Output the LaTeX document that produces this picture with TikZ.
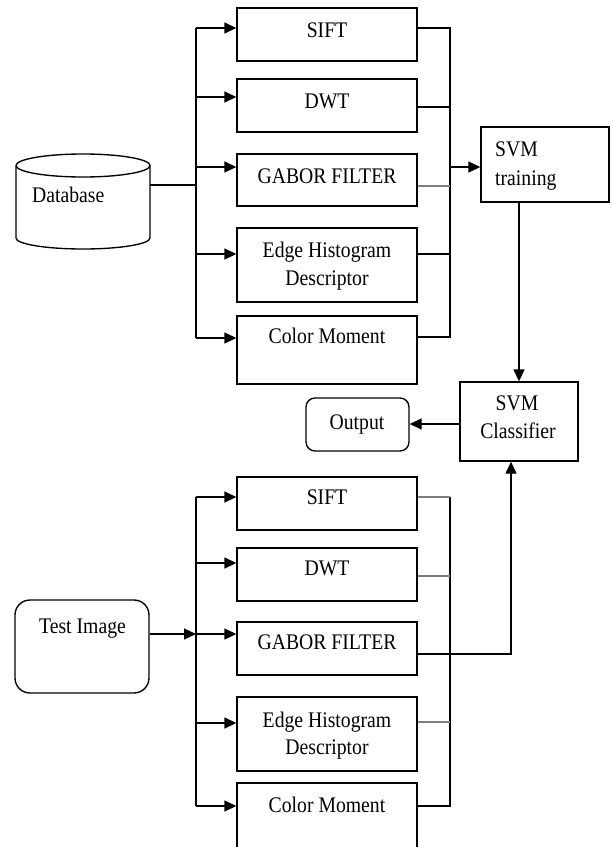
\documentclass[tikz,border=0pt]{standalone}
\usepackage{fontspec}
\setmainfont{Liberation Serif}
\usetikzlibrary{arrows.meta,calc}
\definecolor{wiregray}{RGB}{125,125,125}
\newcommand\tallt[1]{\scalebox{1}[1.13]{#1}}

\begin{document}
\begin{tikzpicture}[x=1bp,y=-1bp,
  box/.style={draw,line width=1.35bp,minimum width=180bp,inner sep=0pt},
  rbox/.style={draw,line width=1.35bp,inner sep=0pt},
  lbl/.style={font=\fontsize{19.7bp}{23bp}\selectfont,inner sep=0pt,anchor=base},
  lblw/.style={lbl,anchor=base west},
  wire/.style={line width=1.35bp},
  gwire/.style={line width=2.3bp,draw=wiregray},
  arr/.style={wire,-{Triangle[length=12bp,width=11bp]}}]

\fill[white] (0,0) rectangle (613,847);
\useasboundingbox (0,0) rectangle (613,847);
\clip (0,0) rectangle (613,847);

% ---------- training branch ----------
\node[draw=none,minimum width=134bp,minimum height=95bp,inner sep=0pt] (db) at (83,201.5) {};
\draw[line width=1.35bp] (16,165.5) arc[start angle=180,end angle=-180,x radius=67,y radius=11.5];
\draw[line width=1.35bp] (16,165.5) -- (16,238) arc[start angle=180,end angle=360,x radius=67,y radius=-11] -- (150,165.5);
\node[lblw] (tDb) at (32,202) {\tallt{Database}};

\node[box,minimum height=53bp] (s1) at (327,34.5) {};
\node[box,minimum height=53bp] (d1) at (327,105.5) {};
\node[box,minimum height=52bp] (g1) at (327,180) {};
\node[box,minimum height=74bp] (e1) at (327,265) {};
\node[box,minimum height=68bp] (c1) at (327,350) {};

\node[lbl] (tS1) at (327,37) {\tallt{SIFT}};
\node[lbl] (tD1) at (327,108) {\tallt{DWT}};
\node[lbl] (tG1) at (327,183) {\tallt{GABOR FILTER}};
\node[lbl] (tE1a) at (327,257) {\tallt{Edge Histogram}};
\node[lbl] (tE1b) at (327,285) {\tallt{Descriptor}};
\node[lbl] (tC1) at (327,343) {\tallt{Color Moment}};

\node[draw,line width=1.35bp,minimum width=128bp,minimum height=75bp,inner sep=0pt] (train) at (545,164.5) {};
\node[lblw] (tTr1) at (495,156) {\tallt{SVM}};
\node[lblw] (tTr2) at (495,185) {\tallt{training}};

% input bus
\coordinate (inA) at (196,185);
\coordinate (busA1) at (196,28);
\coordinate (busA2) at (196,97);
\coordinate (busA3) at (196,167);
\coordinate (busA4) at (196,254);
\coordinate (busA5) at (196,338);
\draw[wire] (inA -| db.east) -- (inA);
\draw[wire] (busA1) -- (busA5);
\draw[arr] (busA1) -- (busA1 -| s1.west);
\draw[arr] (busA2) -- (busA2 -| d1.west);
\draw[arr] (busA3) -- (busA3 -| g1.west);
\draw[arr] (busA4) -- (busA4 -| e1.west);
\draw[arr] (busA5) -- (busA5 -| c1.west);

% output bus
\coordinate (outA1) at (450,28);
\coordinate (outA2) at (450,107);
\coordinate (outA3) at (450,186);
\coordinate (outA4) at (450,254);
\coordinate (outA5) at (450,337);
\coordinate (toTrain) at (450,167);
\draw[wire] (outA1 -| s1.east) -- (outA1) -- (outA5) -- (outA5 -| c1.east);
\draw[wire] (outA2 -| d1.east) -- (outA2);
\draw[gwire] (outA3 -| g1.east) -- (outA3);
\draw[wire] (outA4 -| e1.east) -- (outA4);
\draw[arr] (toTrain) -- (toTrain -| train.west);

% ---------- classifier and output ----------
\node[draw,line width=1.35bp,minimum width=118bp,minimum height=79bp,inner sep=0pt] (cls) at (519,421.5) {};
\node[lbl] (tCl1) at (517,410) {\tallt{SVM}};
\node[lbl] (tCl2) at (518,438) {\tallt{Classifier}};

\node[rbox,rounded corners=9bp,minimum width=103bp,minimum height=53bp] (out) at (357.5,424.5) {};
\node[lbl] (tOut) at (357,429) {\tallt{Output}};

\draw[arr] (train.south -| cls.north) -- (cls.north);
\coordinate (toOut) at (460,424);
\draw[arr] (toOut -| cls.west) -- (toOut -| out.east);

% ---------- test branch ----------
\node[rbox,rounded corners=15bp,minimum width=134bp,minimum height=93bp] (ti) at (82,646.5) {};
\node[lbl] (tTi) at (82.5,633) {\tallt{Test Image}};

\node[box,minimum height=53bp] (s2) at (327,503.5) {};
\node[box,minimum height=53bp] (d2) at (327,574.5) {};
\node[box,minimum height=53bp] (g2) at (327,648.5) {};
\node[box,minimum height=74bp] (e2) at (327,734) {};
\node[box,minimum height=72bp] (c2) at (327,819) {};

\node[lbl] (tS2) at (327,504) {\tallt{SIFT}};
\node[lbl] (tD2) at (327,575) {\tallt{DWT}};
\node[lbl] (tG2) at (327,649) {\tallt{GABOR FILTER}};
\node[lbl] (tE2a) at (327,727) {\tallt{Edge Histogram}};
\node[lbl] (tE2b) at (327,754) {\tallt{Descriptor}};
\node[lbl] (tC2) at (327,812) {\tallt{Color Moment}};

% input bus
\coordinate (busB1) at (196,497);
\coordinate (busB2) at (196,563);
\coordinate (busB3) at (196,634);
\coordinate (busB4) at (196,723);
\coordinate (busB5) at (196,806);
\draw[arr] (busB3 -| ti.east) -- (busB3);
\draw[wire] (busB1) -- (busB5);
\draw[arr] (busB1) -- (busB1 -| s2.west);
\draw[arr] (busB2) -- (busB2 -| d2.west);
\draw[arr] (busB3) -- (busB3 -| g2.west);
\draw[arr] (busB4) -- (busB4 -| e2.west);
\draw[arr] (busB5) -- (busB5 -| c2.west);

% output bus
\coordinate (outB1) at (450,497);
\coordinate (outB2) at (450,576);
\coordinate (outB3) at (450,654);
\coordinate (outB4) at (450,722);
\coordinate (outB5) at (450,806);
\coordinate (upCls) at (511,654);
\draw[wire] (outB1) -- (outB5) -- (outB5 -| c2.east);
\draw[gwire] (outB1 -| s2.east) -- (outB1);
\draw[gwire] (outB2 -| d2.east) -- (outB2);
\draw[gwire] (outB4 -| e2.east) -- (outB4);
\draw[arr] (outB3 -| g2.east) -- (upCls) -- (upCls |- cls.south);
\end{tikzpicture}
\end{document}
